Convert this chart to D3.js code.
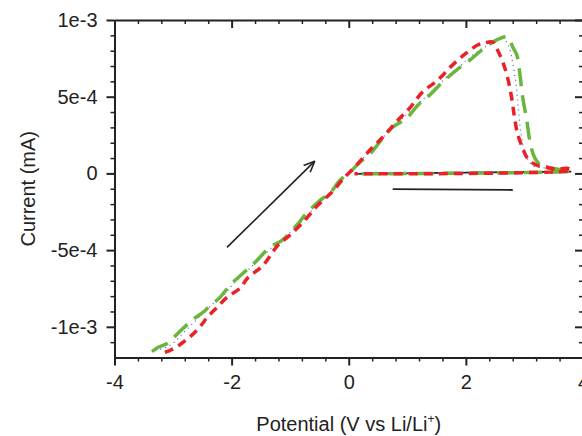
<!DOCTYPE html>
<html>
<head>
<meta charset="utf-8">
<script src="https://cdn.jsdelivr.net/npm/d3@7"></script>
<style>
  body { margin: 0; background: #fff; }
  svg { display: block; font-family: 'Liberation Sans', Arial, sans-serif; }
  .axis path, .axis line { stroke: #222; }
  .axis text { fill: #222; font-size: 20px; }
</style>
</head>
<body>
<div id="chart"></div>
<script>
// potential (V), current in units of 1e-4 mA
const greenV = [-3.36, -3.26, -3.10, -2.92, -2.66, -2.47, -2.40, -2.20, -2.03, -1.81, -1.60, -1.35, -1.14, -0.89, -0.72, -0.49, -0.32, -0.15, 0.02, 0.19, 0.39, 0.58, 0.75, 0.99, 1.18, 1.38, 1.60, 1.84, 2.03, 2.27, 2.52, 2.71, 2.80, 2.87, 2.92, 2.97, 3.04, 3.09, 3.17, 3.31, 3.48, 3.65, 3.80, 0.10];
const greenI = [-11.61, -11.35, -11.09, -10.43, -9.52, -9.00, -8.74, -8.08, -7.30, -6.52, -5.80, -4.82, -4.36, -3.38, -2.60, -1.75, -1.29, -0.45, 0.08, 0.73, 1.38, 2.30, 3.01, 3.60, 4.45, 5.10, 5.95, 6.74, 7.26, 8.04, 8.69, 8.89, 8.24, 7.72, 6.54, 4.97, 3.47, 2.17, 1.06, 0.40, 0.34, 0.21, 0.14, -0.03];

const redV = [-3.14, -3.02, -2.88, -2.75, -2.63, -2.51, -2.42, -2.25, -2.08, -1.86, -1.72, -1.48, -1.21, -1.01, -0.78, -0.53, -0.29, -0.07, 0.10, 0.39, 0.58, 0.84, 1.04, 1.26, 1.52, 1.77, 2.01, 2.20, 2.32, 2.46, 2.54, 2.63, 2.71, 2.78, 2.83, 2.88, 2.97, 3.05, 3.21, 3.38, 3.55, 3.72, 3.80, 0.10];
const redI = [-11.67, -11.48, -11.15, -10.76, -10.37, -9.85, -9.39, -8.74, -8.08, -7.50, -6.78, -6.06, -4.69, -4.04, -3.19, -2.08, -1.23, -0.25, 0.40, 1.64, 2.36, 3.47, 4.26, 5.30, 6.08, 7.06, 7.85, 8.37, 8.50, 8.56, 8.04, 7.26, 6.28, 4.97, 3.67, 2.62, 1.64, 0.99, 0.53, 0.40, 0.27, 0.34, 0.21, -0.03];

const blueV = [-3.30, -3.05, -2.80, -2.55, -2.35, -2.15, -1.95, -1.72, -1.50, -1.25, -1.05, -0.82, -0.60, -0.38, -0.15, 0.05, 0.25, 0.48, 0.70, 0.92, 1.15, 1.40, 1.65, 1.90, 2.15, 2.40, 2.60, 2.72, 2.80, 2.85, 2.88, 2.91, 2.95, 3.02, 3.15, 3.35, 3.60, 3.80, 0.10];
const blueI = [-11.55, -11.20, -10.30, -9.35, -8.60, -8.00, -7.10, -6.30, -5.50, -4.60, -4.00, -3.20, -2.30, -1.50, -0.50, 0.20, 1.00, 1.90, 2.80, 3.60, 4.40, 5.30, 6.20, 7.00, 7.80, 8.40, 8.85, 8.40, 7.20, 6.00, 4.90, 3.60, 2.40, 1.20, 0.50, 0.35, 0.25, 0.15, -0.03];

const blackV = [0.10, 3.80];
const blackI = [-0.03, 0.12];

const xTicks = [-4, -2, 0, 2, 4];
const xTickLabels = ['-4', '-2', '0', '2', '4'];
const xMinor = [-3.6, -3.2, -2.8, -2.4, -1.6, -1.2, -0.8, -0.4, 0.4, 0.8, 1.2, 1.6, 2.4, 2.8, 3.2, 3.6];
const yTicks = [1e-3, 5e-4, 0, -5e-4, -1e-3];
const yTickLabels = ['1e-3', '5e-4', '0', '-5e-4', '-1e-3'];
const yMinor = [9e-4, 8e-4, 7e-4, 6e-4, 4e-4, 3e-4, 2e-4, 1e-4, -1e-4, -2e-4, -3e-4, -4e-4, -6e-4, -7e-4, -8e-4, -9e-4, -1.1e-3];

// annotations: arrow and bar, in data units (V, 1e-4 mA)
const arrowV = [-2.08, -0.58];
const arrowI = [-4.82, 0.80];
const barV = [0.75, 2.80];
const barI = [-1.03, -1.08];

const width = 582;
const height = 436;
const margin = { top: 20, right: -1, bottom: 78.5, left: 114.5 };

const svg = d3.select('#chart')
  .append('svg')
  .attr('width', width)
  .attr('height', height);

const x = d3.scaleLinear()
  .domain([-4, 4])
  .range([margin.left, width - margin.right]);

const y = d3.scaleLinear()
  .domain([-1.2e-3, 1e-3])
  .range([height - margin.bottom, margin.top]);

const x0 = margin.left;
const x1 = width - margin.right;
const y0 = height - margin.bottom;
const y1 = margin.top;

// bottom
svg.append('g').attr('class', 'axis')
  .attr('transform', `translate(0, ${y0})`)
  .call(d3.axisBottom(x).tickValues(xMinor).tickSize(4).tickFormat(''))
  .call(g => g.select('.domain').remove())
  .selectAll('line').attr('stroke-width', 1.5);
svg.append('g').attr('class', 'axis')
  .attr('transform', `translate(0, ${y0})`)
  .call(d3.axisBottom(x).tickValues(xTicks).tickSize(8).tickPadding(9).tickSizeOuter(0)
    .tickFormat((d, i) => xTickLabels[i]))
  .call(g => g.selectAll('line, path').attr('stroke-width', 2));

// top
svg.append('g').attr('class', 'axis')
  .attr('transform', `translate(0, ${y1})`)
  .call(d3.axisBottom(x).tickValues(xMinor).tickSize(4).tickFormat(''))
  .call(g => g.select('.domain').remove())
  .selectAll('line').attr('stroke-width', 1.5);
svg.append('g').attr('class', 'axis')
  .attr('transform', `translate(0, ${y1})`)
  .call(d3.axisBottom(x).tickValues(xTicks).tickSize(8).tickFormat('').tickSizeOuter(0))
  .call(g => g.selectAll('line, path').attr('stroke-width', 2));

// left
svg.append('g').attr('class', 'axis')
  .attr('transform', `translate(${x0}, 0)`)
  .call(d3.axisLeft(y).tickValues(yMinor).tickSize(4).tickFormat(''))
  .call(g => g.select('.domain').remove())
  .selectAll('line').attr('stroke-width', 1.5);
svg.append('g').attr('class', 'axis')
  .attr('transform', `translate(${x0}, 0)`)
  .call(d3.axisLeft(y).tickValues(yTicks).tickSize(8).tickPadding(9).tickSizeOuter(0)
    .tickFormat((d, i) => yTickLabels[i]))
  .call(g => g.selectAll('line, path').attr('stroke-width', 2));

// right
svg.append('g').attr('class', 'axis')
  .attr('transform', `translate(${x1}, 0)`)
  .call(d3.axisLeft(y).tickValues(yMinor).tickSize(4).tickFormat(''))
  .call(g => g.select('.domain').remove())
  .selectAll('line').attr('stroke-width', 1.5);
svg.append('g').attr('class', 'axis')
  .attr('transform', `translate(${x1}, 0)`)
  .call(d3.axisLeft(y).tickValues(yTicks).tickSize(8).tickFormat('').tickSizeOuter(0))
  .call(g => g.selectAll('line, path').attr('stroke-width', 2));

const line = d3.line()
  .x(d => x(d[0]))
  .y(d => y(d[1] * 1e-4))
  .curve(d3.curveCatmullRom);

const series = [
  { v: blackV, i: blackI, color: '#222', width: 1.8, dash: null },
  { v: blueV, i: blueI, color: '#4a68c8', width: 1.3, dash: '1,4' },
  { v: greenV, i: greenI, color: '#6ab63c', width: 3.5, dash: '18,9' },
  { v: redV, i: redI, color: '#ea2228', width: 3.5, dash: '9,6' },
];

series.forEach(s => {
  svg.append('path')
    .datum(s.v.map((v, k) => [v, s.i[k]]))
    .attr('fill', 'none')
    .attr('stroke', s.color)
    .attr('stroke-width', s.width)
    .attr('stroke-dasharray', s.dash)
    .attr('stroke-linejoin', 'round')
    .attr('d', line);
});

// arrow
const ax0 = x(arrowV[0]), ay0 = y(arrowI[0] * 1e-4);
const ax1 = x(arrowV[1]), ay1 = y(arrowI[1] * 1e-4);
const ang = Math.atan2(ay1 - ay0, ax1 - ax0);
svg.append('line')
  .attr('x1', ax0).attr('y1', ay0)
  .attr('x2', ax1).attr('y2', ay1)
  .attr('stroke', '#222').attr('stroke-width', 1.6);
[-0.4, 0.4].forEach(a => {
  svg.append('line')
    .attr('x1', ax1).attr('y1', ay1)
    .attr('x2', ax1 - 12 * Math.cos(ang + a))
    .attr('y2', ay1 - 12 * Math.sin(ang + a))
    .attr('stroke', '#222').attr('stroke-width', 1.6);
});

// bar
svg.append('line')
  .attr('x1', x(barV[0])).attr('y1', y(barI[0] * 1e-4))
  .attr('x2', x(barV[1])).attr('y2', y(barI[1] * 1e-4))
  .attr('stroke', '#222').attr('stroke-width', 1.8);

// titles
const xt = svg.append('text')
  .attr('x', (x0 + 583) / 2)
  .attr('y', 431)
  .attr('text-anchor', 'middle')
  .attr('fill', '#222')
  .style('font-size', '20px')
  .text('Potential (V vs Li/Li');
xt.append('tspan').attr('dy', -8).style('font-size', '12px').text('+');
xt.append('tspan').attr('dy', 8).text(')');

svg.append('text')
  .attr('transform', `translate(35, ${(y0 + y1) / 2}) rotate(-90)`)
  .attr('text-anchor', 'middle')
  .attr('fill', '#222')
  .style('font-size', '20px')
  .text('Current (mA)');
</script>
</body>
</html>
